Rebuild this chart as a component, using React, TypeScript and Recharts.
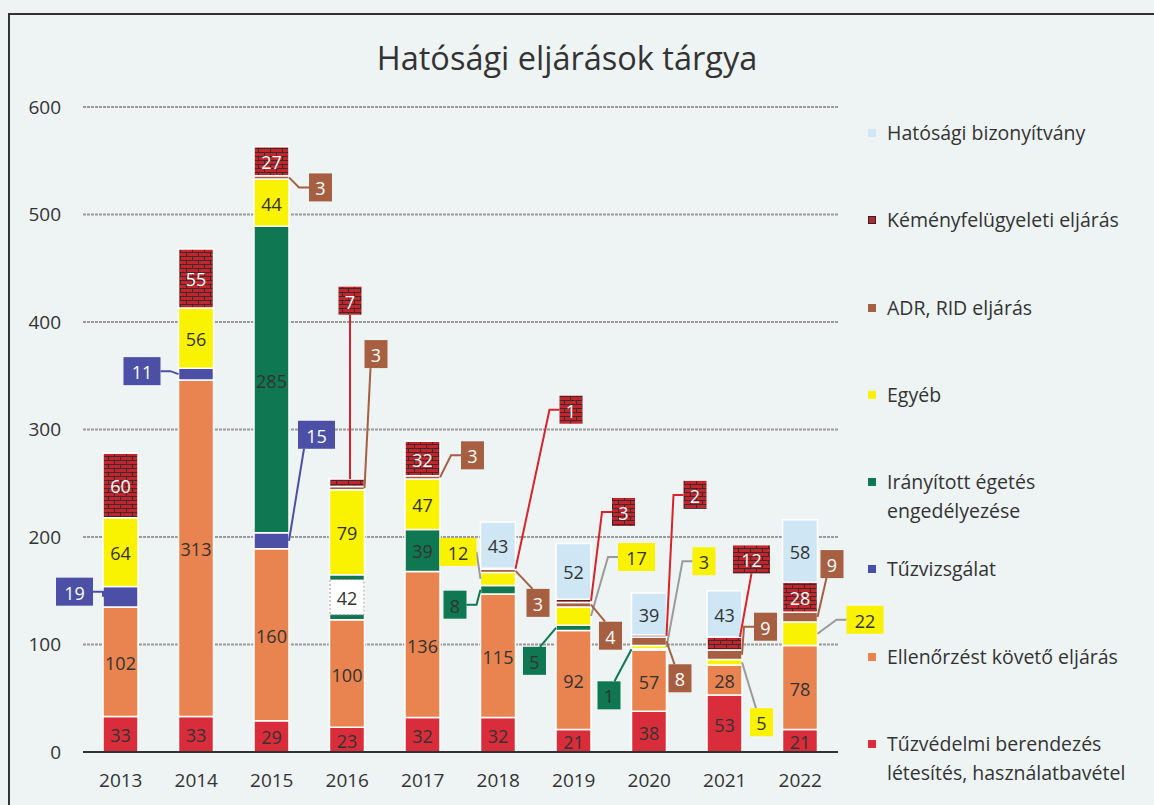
import { BarChart, Bar, XAxis, YAxis, CartesianGrid, Legend, LabelList } from 'recharts';

const years = ['2013', '2014', '2015', '2016', '2017', '2018', '2019', '2020', '2021', '2022'];
const tuzvedelmi = [33, 33, 29, 23, 32, 32, 21, 38, 53, 21];
const ellenorzes = [102, 313, 160, 100, 136, 115, 92, 57, 28, 78];
const tuzvizsgalat = [19, 11, 15, 0, 0, 0, 0, 0, 0, 0];
const iranyitott = [0, 0, 285, 42, 39, 8, 5, 1, 0, 0];
const egyeb = [64, 56, 44, 79, 47, 12, 17, 3, 5, 22];
const adr = [0, 0, 3, 3, 3, 3, 4, 8, 9, 9];
const kemeny = [60, 55, 27, 7, 32, 1, 3, 2, 12, 28];
const hatosagi = [0, 0, 0, 0, 0, 43, 52, 39, 43, 58];
const yTicks = [0, 100, 200, 300, 400, 500, 600];

const data = years.map((year, i) => ({
  year,
  tuzvedelmi: tuzvedelmi[i],
  ellenorzes: ellenorzes[i],
  tuzvizsgalat: tuzvizsgalat[i],
  iranyitott: iranyitott[i],
  egyeb: egyeb[i],
  adr: adr[i],
  kemeny: kemeny[i],
  hatosagi: hatosagi[i],
}));

const FONT = '"Open Sans", sans-serif';
const TEXT = '#333';

// plot band geometry, only used to find which year a label belongs to
const PLOT_LEFT = 83;
const BAND = 75.5;

// stacking order, bottom to top
const series = [
  { key: 'tuzvedelmi', name: ['Tűzvédelmi berendezés', 'létesítés, használatbavétel'], fill: '#d92d3b', text: TEXT, line: '#d92d3b' },
  { key: 'ellenorzes', name: ['Ellenőrzést követő eljárás'], fill: '#e9834f', text: TEXT, line: '#e9834f' },
  { key: 'tuzvizsgalat', name: ['Tűzvizsgálat'], fill: '#4b4fa6', text: '#fff', line: '#4b4fa6' },
  { key: 'iranyitott', name: ['Irányított égetés', 'engedélyezése'], fill: '#0f7752', text: TEXT, line: '#0f7752' },
  { key: 'egyeb', name: ['Egyéb'], fill: '#f9f200', text: TEXT, line: '#9a9a9a' },
  { key: 'adr', name: ['ADR, RID eljárás'], fill: '#a65f40', text: '#fff', line: '#a65f40' },
  { key: 'kemeny', name: ['Kéményfelügyeleti eljárás'], fill: 'url(#brick)', legend: '#b02a36', text: '#fff', line: '#d8232a' },
  { key: 'hatosagi', name: ['Hatósági bizonyítvány'], fill: '#cfe6f4', text: TEXT, line: '#9ab' },
];

// where the boxed labels sit, relative to the segment centre (keyed by year)
type Callout = { dx: number; dy: number; direct?: boolean };
const callouts: Record<string, Record<string, Callout>> = {
  tuzvizsgalat: { '2013': { dx: -46, dy: -5 }, '2014': { dx: -54, dy: -3 }, '2015': { dx: 45, dy: -106, direct: true } },
  iranyitott: { '2018': { dx: -43, dy: 15 }, '2019': { dx: -39, dy: 33, direct: true }, '2020': { dx: -40, dy: 46, direct: true } },
  egyeb: { '2018': { dx: -40, dy: -27, direct: true }, '2019': { dx: 63, dy: -59 }, '2020': { dx: 55, dy: -86 }, '2021': { dx: 37, dy: 60, direct: true }, '2022': { dx: 65, dy: -14 } },
  adr: { '2015': { dx: 49, dy: 10 }, '2016': { dx: 29, dy: -134, direct: true }, '2017': { dx: 50, dy: -22 }, '2018': { dx: 40, dy: 32, direct: true }, '2019': { dx: 37, dy: 31, direct: true }, '2020': { dx: 31, dy: 37, direct: true }, '2021': { dx: 41, dy: -28 }, '2022': { dx: 32, dy: -53, direct: true } },
  kemeny: { '2016': { dx: 3, dy: -182 }, '2018': { dx: 73, dy: -159 }, '2019': { dx: 50, dy: -89 }, '2020': { dx: 46, dy: -141 }, '2021': { dx: 27, dy: -84 } },
};

function labelText(x: number, y: number, v: number, fill: string) {
  return (
    <text x={x} y={y + 1} textAnchor="middle" dominantBaseline="central" fontSize={18} fontFamily={FONT} fill={fill}>
      {v}
    </text>
  );
}

function makeLabel(s: any) {
  return (props: any) => {
    const vb = props.viewBox || {};
    const x = Number(props.x ?? vb.x);
    const y = Number(props.y ?? vb.y);
    const w = Number(props.width ?? vb.width);
    const h = Number(props.height ?? vb.height);
    const v = Number(props.value);
    if (!v || isNaN(x)) return null;
    const cx = x + w / 2;
    const cy = y + h / 2;
    const year = props.payload?.year ?? years[Math.floor((cx - PLOT_LEFT) / BAND)];
    const co = callouts[s.key]?.[year];

    if (co) {
      const bw = String(v).length > 1 ? 37 : 23;
      const bh = 28;
      const bcx = cx + co.dx;
      const bcy = cy + co.dy;
      const bx = bcx - bw / 2;
      const by = bcy - bh / 2;
      const right = bx >= x + w;
      const left = bx + bw <= x;
      let d = '';
      if (co.direct && (right || left)) {
        // straight leader to the nearest box corner area
        const sx = right ? x + w : x;
        const ex = right ? bx + 6 : bx + bw - 6;
        const ey = co.dy < 0 ? by + bh : by;
        d = Math.abs(co.dy) < bh ? `M${sx},${cy} L${right ? bx : bx + bw},${bcy}` : `M${sx},${cy} L${ex},${ey}`;
      } else if (right) {
        d = `M${x + w},${cy} L${bx - 10},${bcy} L${bx},${bcy}`;
      } else if (left) {
        d = `M${x},${cy} L${bx + bw + 10},${bcy} L${bx + bw},${bcy}`;
      } else {
        const ax = Math.min(Math.max(bcx, x + 2), x + w - 2);
        d = `M${ax},${y} L${bcx},${by + bh}`;
      }
      return (
        <g>
          <path d={d} stroke={s.line} strokeWidth={2} fill="none" />
          <rect x={bx} y={by} width={bw} height={bh} fill={s.fill} />
          {labelText(bcx, bcy, v, s.text)}
        </g>
      );
    }

    if (s.key === 'iranyitott' && year === '2016') {
      return (
        <g>
          <rect x={cx - 17} y={y + 5} width={34} height={h - 10} fill="#fff" stroke="#999" strokeDasharray="2 2" />
          {labelText(cx, cy, v, TEXT)}
        </g>
      );
    }

    return labelText(cx, cy, v, s.text);
  };
}

function LegendBox() {
  const items = [...series].reverse();
  return (
    <div style={{ fontFamily: FONT, fontSize: 19.5, color: TEXT }}>
      {items.map((s) => (
        <div key={s.key} style={{ height: 87.3, display: 'flex', alignItems: 'flex-start' }}>
          <span
            style={{
              display: 'inline-block',
              flex: '0 0 auto',
              width: 8,
              height: 8,
              marginTop: 11,
              marginRight: 11,
              background: s.legend || s.fill,
              border: s.key === 'kemeny' ? '1px solid #3a2020' : 'none',
              boxSizing: 'border-box',
            }}
          />
          <span style={{ lineHeight: '29px' }}>
            {s.name.map((n) => (
              <div key={n}>{n}</div>
            ))}
          </span>
        </div>
      ))}
    </div>
  );
}

export default function App() {
  return (
    <div style={{ position: 'absolute', left: 0, top: 0, width: 1154, height: 805, background: '#eef4f3', overflow: 'hidden' }}>
      <div style={{ position: 'absolute', left: 8, top: 13, width: 1200, height: 900, borderTop: '2px solid #333', borderLeft: '2px solid #333' }} />
      <div style={{ position: 'absolute', left: 0, width: 1134, top: 35, textAlign: 'center', fontFamily: FONT, fontSize: 32.5, color: TEXT }}>
        Hatósági eljárások tárgya
      </div>
      <div style={{ position: 'absolute', left: 0, top: 0 }}>
        <BarChart width={1154} height={805} data={data} margin={{ top: 107, right: 316, bottom: 23, left: 8 }} barSize={35}>
          <defs>
            <pattern id="brick" width="12" height="8" patternUnits="userSpaceOnUse">
              <rect width="12" height="8" fill="#c4252d" />
              <path d="M0,0.5 H12 M0,4.5 H12 M0.5,0 V4 M6.5,4 V8" stroke="#3d2a2a" strokeWidth="1" />
            </pattern>
          </defs>
          <CartesianGrid vertical={false} stroke="#9a9a9a" strokeWidth={2} strokeDasharray="3 1" />
          <XAxis
            dataKey="year"
            axisLine={{ stroke: '#333', strokeWidth: 2 }}
            tickLine={false}
            tickSize={0}
            tickMargin={22}
            tick={{ fill: TEXT, fontSize: 19, fontFamily: FONT }}
          />
          <YAxis
            width={75}
            domain={[0, 600]}
            ticks={yTicks}
            axisLine={false}
            tickLine={false}
            tickSize={0}
            tickMargin={22}
            tick={{ fill: TEXT, fontSize: 19, fontFamily: FONT }}
          />
          <Legend
            layout="horizontal"
            verticalAlign="middle"
            align="center"
            content={() => <LegendBox />}
            wrapperStyle={{ left: 868, top: 118, width: 286 }}
          />
          {series.map((s) => (
            <Bar key={s.key} dataKey={s.key} stackId="a" fill={s.fill} stroke="#fff" strokeWidth={1.5} isAnimationActive={false}>
              <LabelList dataKey={s.key} content={makeLabel(s)} />
            </Bar>
          ))}
        </BarChart>
      </div>
    </div>
  );
}
